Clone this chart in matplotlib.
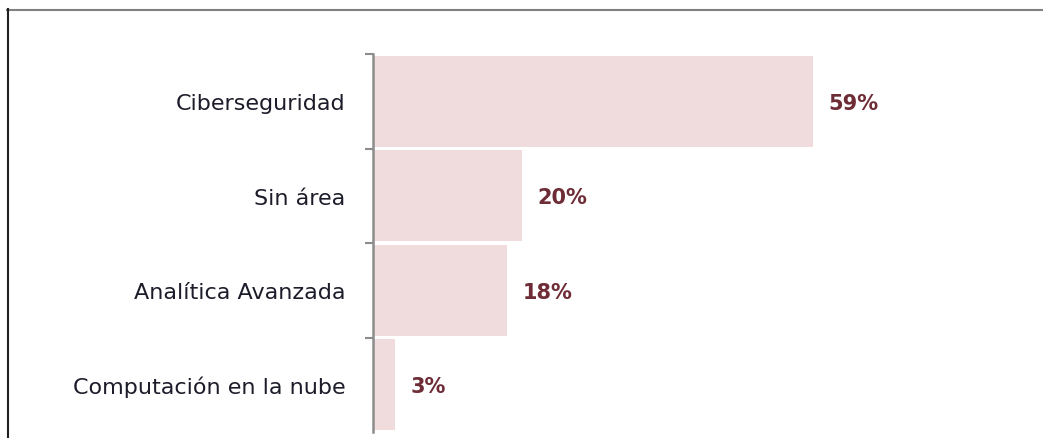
import matplotlib
matplotlib.use("Agg")
import matplotlib.pyplot as plt
from matplotlib.lines import Line2D

categories = ["Ciberseguridad", "Sin área", "Analítica Avanzada", "Computación en la nube"]
values = [59, 20, 18, 3]
labels = ["59%", "20%", "18%", "3%"]

W, H = 1043, 439
fig = plt.figure(figsize=(W / 100, H / 100), dpi=100)
plt.rcParams['font.family'] = ['DejaVu Sans']

# axes placed in pixel terms
left, right, top, bottom = 373, 1000, 55, 433
ax = fig.add_axes([left / W, 1 - bottom / H, (right - left) / W, (bottom - top) / H])

ypos = list(range(len(categories)))
ax.barh(ypos, values, height=0.96, color="#f0dcdc", edgecolor="none")
ax.set_xlim(0, 59 * (right - left) / (813 - left))
ax.set_ylim(len(categories) - 0.5, -0.5)

for y, v, lab in zip(ypos, values, labels):
    ax.annotate(lab, (v, y), xytext=(11, -1), textcoords="offset points",
                va="center", ha="left", fontsize=15, fontweight="bold",
                color="#6e2c36")

ax.set_yticks(ypos)
ax.set_yticklabels(categories, fontsize=16, color="#1c1c2a")
ax.tick_params(axis="y", which="major", length=0, pad=20)
ax.set_yticks([y - 0.5 for y in ypos], minor=True)
ax.tick_params(axis="y", which="minor", length=6, width=1.5, color="#8c8c8c", direction="out")
ax.set_xticks([])
for s in ["top", "right", "bottom"]:
    ax.spines[s].set_visible(False)
ax.spines["left"].set_color("#8c8c8c")
ax.spines["left"].set_linewidth(1.8)

# outer frame (top and left edges)
fig.add_artist(Line2D([7 / W, 1], [1 - 10.5 / H, 1 - 10.5 / H], transform=fig.transFigure,
                      color="#808080", linewidth=1.5))
fig.add_artist(Line2D([7.5 / W, 7.5 / W], [0, 1 - 10 / H], transform=fig.transFigure,
                      color="#202020", linewidth=1.5))

fig.savefig("out.png", dpi=100)
